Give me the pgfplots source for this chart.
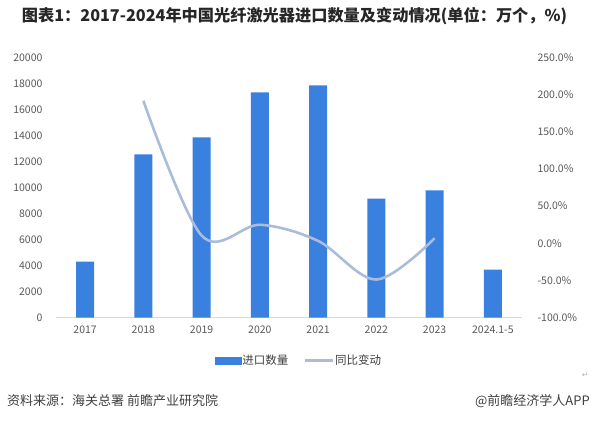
\documentclass[border=0pt]{standalone}
\usepackage{fontspec}
\setmainfont{Noto Sans CJK SC}
\newfontfamily\dejavu{DejaVu Sans}
\usepackage{pgfplots}
\pgfplotsset{compat=1.18}
\definecolor{barblue}{HTML}{3A80DE}
\definecolor{lineblue}{HTML}{A9BDDB}
\definecolor{ticktext}{HTML}{595959}
\definecolor{axisgray}{HTML}{D9D9D9}
\definecolor{foot}{HTML}{404040}
\begin{document}
\begin{tikzpicture}[x=1pt,y=1pt]
\path (0,0) rectangle (591,421);
\node[font=\fontsize{16.2}{18}\selectfont\bfseries, text=black!85] at (294.5,405) {图表1：2017-2024年中国光纤激光器进口数量及变动情况(单位：万个，\%)};
\begin{axis}[
  at={(56pt,103.3pt)}, anchor=south west, scale only axis,
  width=466pt, height=260.4pt,
  xmin=-0.5, xmax=7.5, ymin=0, ymax=20000,
  axis x line*=bottom, axis y line*=left,
  y axis line style={draw=none},
  x axis line style={axisgray, line width=0.8pt, -},
  major tick length=0pt,
  scaled y ticks=false,
  xtick={0,...,7},
  xticklabels={2017,2018,2019,2020,2021,2022,2023,2024.1-5},
  ytick={0,2000,...,20000},
  yticklabel={\pgfmathprintnumber[fixed,precision=0,1000 sep={},assume math mode=true]{\tick}},
  tick label style={font=\fontsize{10.5}{12}\selectfont, text=ticktext},
  yticklabel shift=10pt,
  xticklabel shift=5pt,
]
\addplot[ybar, bar width=18pt, fill=barblue, draw=none] coordinates {
 (0,4300) (1,12540) (2,13850) (3,17300) (4,17850) (5,9150) (6,9770) (7,3700)};
\end{axis}
\begin{axis}[
  at={(56pt,103.3pt)}, anchor=south west, scale only axis,
  width=466pt, height=260.4pt,
  xmin=-0.5, xmax=7.5, ymin=-100, ymax=250,
  axis x line=none, axis y line*=right,
  y axis line style={draw=none},
  major tick length=0pt,
  ytick={-100,-50,...,250},
  yticklabel={\pgfmathprintnumber[fixed,fixed zerofill,precision=1,assume math mode=true]{\tick}\%},
  tick label style={font=\fontsize{10.5}{12}\selectfont, text=ticktext},
  yticklabel shift=12pt,
  legend style={at={(axis description cs:0.5204,-0.1644)}, anchor=center,
    draw=none, fill=none, inner sep=0pt,
    font=\fontsize{11.5}{13}\selectfont, text=foot,
    legend columns=2,
    /tikz/every even column/.append style={column sep=14pt},
    nodes={inner sep=1pt}},
]
\addlegendimage{legend image code/.code={\fill[barblue] (0pt,-3.5pt) rectangle (26pt,3.5pt);}}
\addlegendentry{进口数量}
\addplot[lineblue, line width=2.6pt, smooth, tension=0.55,
  legend image code/.code={\draw[lineblue, line width=2.6pt] (0pt,0pt) -- (28pt,0pt);}]
  coordinates {(1,191.6) (2,10.4) (3,24.9) (4,3.2) (5,-48.7) (6,6.8)};
\addlegendentry{同比变动}
\end{axis}
\node[anchor=west, font=\fontsize{13}{15}\selectfont, text=foot, inner sep=0pt] at (7,20) {资料来源：海关总署 前瞻产业研究院};
\node[anchor=east, font=\fontsize{13}{15}\selectfont, text=foot, inner sep=0pt] at (590,20) {@前瞻经济学人APP};
\node[font=\dejavu\fontsize{7}{8}\selectfont, text=black!35, inner sep=0pt] at (585,46) {↵};
\end{tikzpicture}
\end{document}
